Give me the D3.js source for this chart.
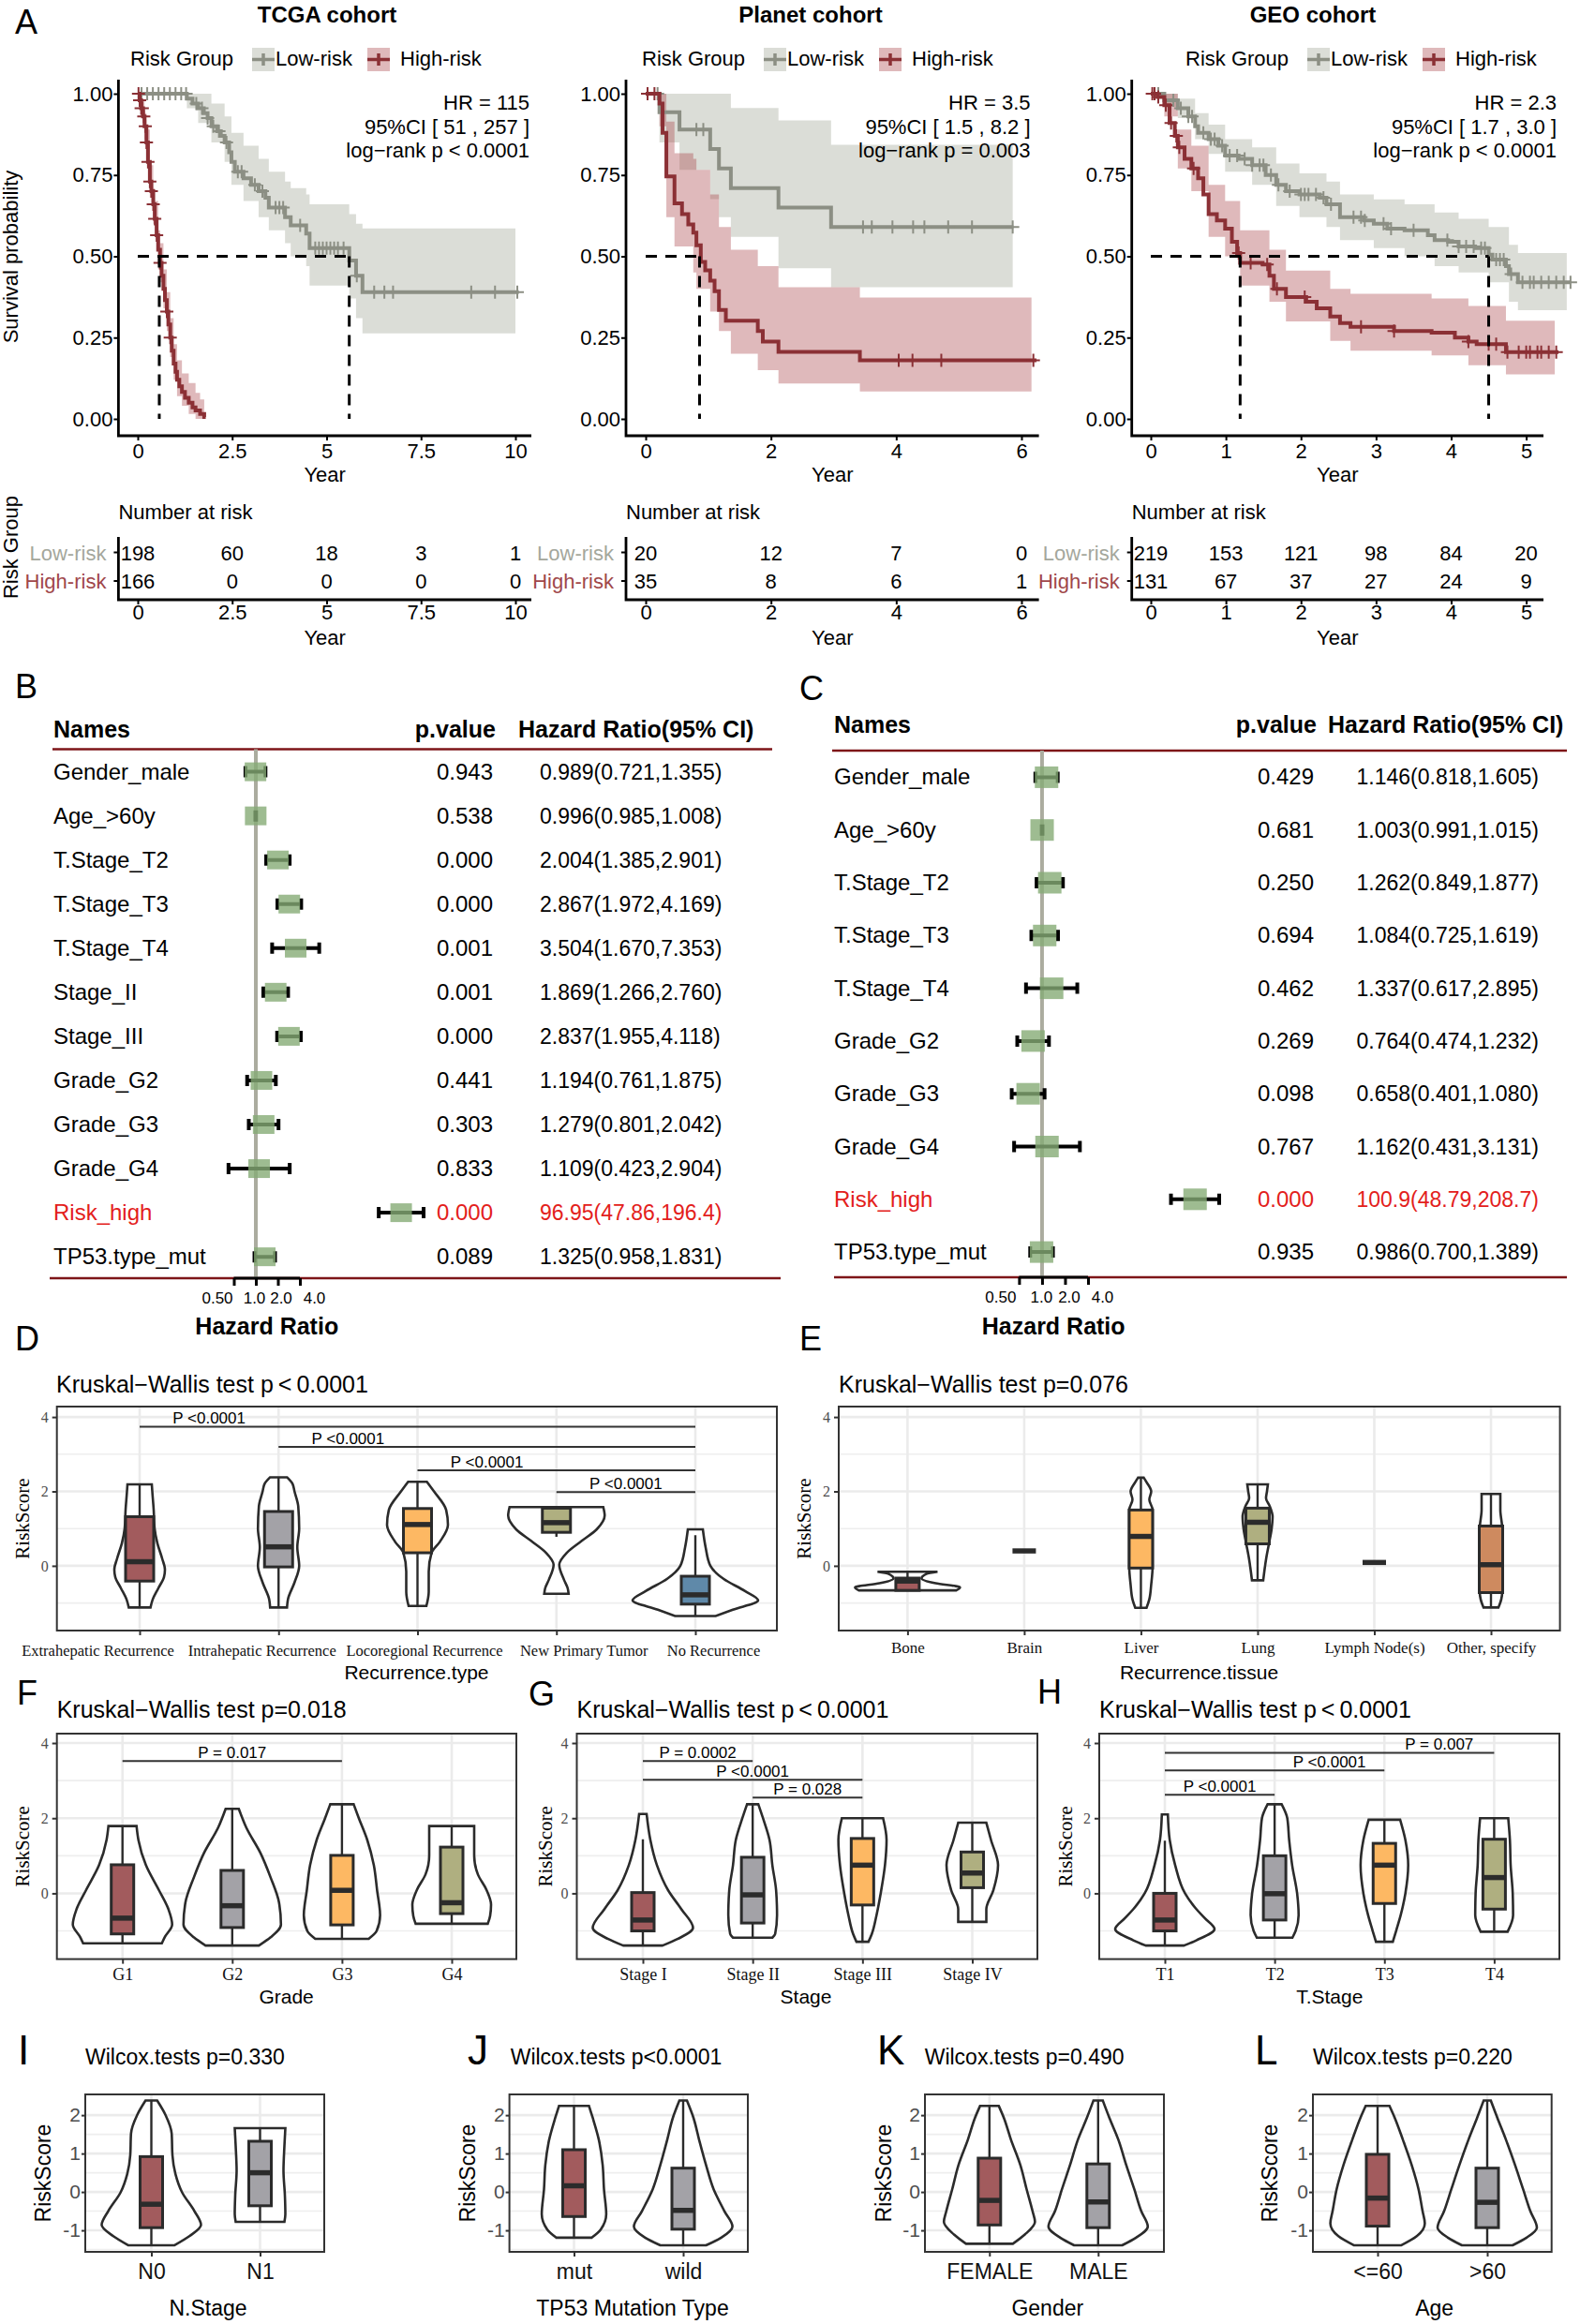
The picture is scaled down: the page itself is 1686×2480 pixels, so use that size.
<!DOCTYPE html>
<html>
<head>
<meta charset="utf-8">
<script src="https://cdn.jsdelivr.net/npm/d3@7"></script>
<style>
  body { margin: 0; background: #fff; }
  svg { display: block; }
</style>
</head>
<body>
<svg id="fig" width="1686" height="2480"></svg>
<script>
/* Risk model figure: KM curves (A), forest plots (B, C), violin plots (D-L) */

// ============ Data: Kaplan-Meier (A) ============
// steps: [year, survival]   ci: [year, lower, upper]   censor: [year]
const tcgaTicks = [0, 2.5, 5, 7.5, 10];
const tcgaLow = [[0,1],[1.30,0.985],[1.45,0.97],[1.6,0.955],[1.75,0.94],[1.85,0.925],[1.95,0.90],[2.1,0.885],[2.2,0.87],[2.3,0.85],[2.42,0.82],[2.48,0.79],[2.57,0.76],[2.8,0.74],[3.0,0.72],[3.2,0.70],[3.38,0.68],[3.47,0.65],[3.9,0.62],[4.05,0.595],[4.46,0.57],[4.55,0.525],[5.6,0.487],[5.78,0.44],[5.95,0.39],[10.09,0.39]];
const tcgaLowCI = [[0,1,1],[1.3,0.955,1],[1.6,0.91,1],[1.95,0.85,0.97],[2.3,0.79,0.93],[2.48,0.72,0.88],[2.8,0.67,0.84],[3.2,0.62,0.80],[3.47,0.58,0.76],[3.9,0.54,0.73],[4.05,0.50,0.71],[4.46,0.47,0.69],[4.55,0.41,0.66],[5.6,0.37,0.63],[5.78,0.31,0.60],[5.95,0.263,0.586],[10.0,0.263,0.586]];
const tcgaLowCens = [0.1,0.25,0.4,0.55,0.7,0.85,1.0,1.15,1.28,1.55,1.7,1.85,2.0,2.15,2.35,2.65,2.75,3.1,3.3,3.65,3.75,3.85,4.3,4.7,4.8,4.9,5.0,5.1,5.2,5.3,5.45,5.8,6.26,6.53,6.76,8.83,9.46,10.05];
const tcgaHigh = [[0,1],[0.05,0.98],[0.09,0.955],[0.14,0.93],[0.18,0.90],[0.23,0.85],[0.27,0.79],[0.32,0.73],[0.36,0.70],[0.41,0.66],[0.45,0.615],[0.50,0.565],[0.54,0.52],[0.59,0.48],[0.63,0.44],[0.68,0.40],[0.72,0.365],[0.77,0.33],[0.81,0.29],[0.86,0.25],[0.90,0.21],[0.95,0.17],[1.0,0.145],[1.04,0.12],[1.1,0.10],[1.17,0.083],[1.25,0.065],[1.35,0.05],[1.45,0.035],[1.53,0.026],[1.65,0.015],[1.76,0.006],[1.8,0.006]];
const tcgaHighCI = [[0,1,1],[0.09,0.93,0.98],[0.18,0.86,0.94],[0.23,0.80,0.89],[0.32,0.68,0.78],[0.41,0.60,0.71],[0.45,0.56,0.67],[0.54,0.46,0.58],[0.59,0.42,0.54],[0.68,0.34,0.46],[0.77,0.27,0.39],[0.86,0.19,0.31],[0.95,0.12,0.23],[1.04,0.07,0.18],[1.17,0.04,0.14],[1.35,0.015,0.11],[1.53,0,0.08],[1.65,0,0.06],[1.76,0,0.06]];
const tcgaHighCens = [0.02,0.05,0.09,0.12,0.16,0.2,0.23,0.27,0.32,0.36,0.41,0.45,0.5,0.59,0.77,0.86];
const tcgaMedians = [0.57, 5.6];
const tcgaStats = ['HR = 115', '95%CI [ 51 , 257 ]', 'log\u2212rank p < 0.0001'];
const tcgaRiskLow = [198, 60, 18, 3, 1];
const tcgaRiskHigh = [166, 0, 0, 0, 0];

const planetTicks = [0, 2, 4, 6];
const planetLow = [[0,1],[0.22,0.943],[0.54,0.89],[1.03,0.83],[1.17,0.77],[1.36,0.71],[2.12,0.65],[2.96,0.59],[5.87,0.59]];
const planetLowCI = [[0,1,1],[0.22,0.85,1],[0.54,0.766,1],[1.03,0.676,1],[1.17,0.62,1],[1.36,0.56,0.956],[2.12,0.463,0.918],[2.96,0.405,0.843],[5.86,0.405,0.843]];
const planetLowCens = [0.03,0.19,0.81,0.92,3.47,3.61,3.94,4.27,4.45,4.83,5.21,5.86];
const planetHigh = [[0,1],[0.22,0.97],[0.27,0.88],[0.33,0.746],[0.46,0.663],[0.58,0.63],[0.68,0.598],[0.76,0.573],[0.81,0.534],[0.88,0.483],[0.95,0.457],[1.03,0.425],[1.10,0.393],[1.17,0.335],[1.28,0.302],[1.79,0.27],[1.87,0.238],[2.12,0.206],[3.42,0.18],[6.24,0.18]];
const planetHighCI = [[0,1,1],[0.22,0.9,1],[0.33,0.62,0.914],[0.46,0.53,0.817],[0.76,0.45,0.80],[0.81,0.40,0.766],[1.03,0.33,0.69],[1.17,0.27,0.59],[1.36,0.20,0.52],[1.79,0.15,0.47],[2.12,0.109,0.405],[3.42,0.084,0.373],[6.16,0.084,0.373]];
const planetHighCens = [0.03,0.14,4.04,4.26,4.72,6.19];
const planetMedians = [0.86];
const planetStats = ['HR = 3.5', '95%CI [ 1.5 , 8.2 ]', 'log\u2212rank p = 0.003'];
const planetRiskLow = [20, 12, 7, 0];
const planetRiskHigh = [35, 8, 6, 1];

const geoTicks = [0, 1, 2, 3, 4, 5];
const geoLow = [[0,1],[0.18,0.98],[0.36,0.955],[0.5,0.93],[0.59,0.90],[0.63,0.88],[0.77,0.86],[0.9,0.84],[0.99,0.81],[1.17,0.80],[1.35,0.78],[1.53,0.75],[1.67,0.72],[1.8,0.70],[1.98,0.69],[2.25,0.68],[2.34,0.66],[2.52,0.62],[2.84,0.61],[2.97,0.60],[3.15,0.585],[3.38,0.58],[3.69,0.565],[3.78,0.55],[3.96,0.545],[4.1,0.53],[4.32,0.525],[4.5,0.505],[4.55,0.49],[4.73,0.47],[4.77,0.445],[4.89,0.42],[5.59,0.42]];
const geoLowCI = [[0,1,1],[0.18,0.96,1],[0.36,0.925,0.985],[0.59,0.86,0.94],[0.77,0.815,0.905],[0.99,0.76,0.86],[1.35,0.72,0.835],[1.67,0.655,0.785],[1.98,0.62,0.755],[2.34,0.59,0.73],[2.52,0.55,0.69],[2.97,0.525,0.675],[3.38,0.50,0.66],[3.78,0.47,0.635],[4.1,0.45,0.615],[4.5,0.42,0.59],[4.77,0.36,0.535],[4.89,0.334,0.51],[5.54,0.334,0.51]];
const geoLowCens = [0.05,0.1,0.3,0.4,0.5,0.55,0.7,0.8,0.85,0.95,1.05,1.15,1.25,1.35,1.45,1.5,1.6,1.7,1.85,2.0,2.05,2.1,2.2,2.3,2.4,2.7,2.8,2.85,3.1,3.2,3.5,3.95,4.1,4.2,4.3,4.4,4.45,4.6,4.65,4.7,4.8,4.95,5.05,5.1,5.2,5.3,5.4,5.5,5.59];
const geoHigh = [[0,1],[0.09,0.99],[0.18,0.965],[0.25,0.91],[0.32,0.87],[0.36,0.835],[0.45,0.80],[0.54,0.77],[0.63,0.74],[0.7,0.69],[0.77,0.63],[0.88,0.61],[0.99,0.585],[1.08,0.545],[1.15,0.51],[1.19,0.48],[1.49,0.475],[1.58,0.44],[1.64,0.40],[1.8,0.375],[2.07,0.36],[2.21,0.34],[2.39,0.315],[2.52,0.295],[2.66,0.283],[3.24,0.27],[3.74,0.265],[4.05,0.25],[4.23,0.238],[4.34,0.23],[4.73,0.205],[5.43,0.205]];
const geoHighCI = [[0,1,1],[0.18,0.93,1],[0.36,0.77,0.89],[0.54,0.70,0.84],[0.77,0.56,0.72],[0.99,0.50,0.67],[1.19,0.41,0.58],[1.58,0.36,0.52],[1.8,0.30,0.456],[2.39,0.24,0.40],[2.66,0.21,0.385],[3.74,0.195,0.37],[4.23,0.165,0.347],[4.73,0.137,0.302],[5.38,0.137,0.302]];
const geoHighCens = [0.02,0.05,0.1,0.2,0.27,0.34,0.38,0.57,1.17,1.33,1.55,1.68,2.05,2.8,3.24,4.23,4.5,4.6,4.75,4.9,5.0,5.05,5.15,5.2,5.3,5.4];
const geoMedians = [1.19, 4.5];
const geoStats = ['HR = 2.3', '95%CI [ 1.7 , 3.0 ]', 'log\u2212rank p < 0.0001'];
const geoRiskLow = [219, 153, 121, 98, 84, 20];
const geoRiskHigh = [131, 67, 37, 27, 24, 9];

// ============ Data: forest plots (B, C) ============
const tcgaCoxNames = ['Gender_male','Age_>60y','T.Stage_T2','T.Stage_T3','T.Stage_T4','Stage_II','Stage_III','Grade_G2','Grade_G3','Grade_G4','Risk_high','TP53.type_mut'];
const tcgaCoxP  = [0.943,0.538,0.000,0.000,0.001,0.001,0.000,0.441,0.303,0.833,0.000,0.089];
const tcgaCoxHR = [0.989,0.996,2.004,2.867,3.504,1.869,2.837,1.194,1.279,1.109,96.95,1.325];
const tcgaCoxLo = [0.721,0.985,1.385,1.972,1.670,1.266,1.955,0.761,0.801,0.423,47.86,0.958];
const tcgaCoxHi = [1.355,1.008,2.901,4.169,7.353,2.760,4.118,1.875,2.042,2.904,196.4,1.831];

const multiCoxNames = ['Gender_male','Age_>60y','T.Stage_T2','T.Stage_T3','T.Stage_T4','Grade_G2','Grade_G3','Grade_G4','Risk_high','TP53.type_mut'];
const multiCoxP  = [0.429,0.681,0.250,0.694,0.462,0.269,0.098,0.767,0.000,0.935];
const multiCoxHR = [1.146,1.003,1.262,1.084,1.337,0.764,0.658,1.162,100.9,0.986];
const multiCoxLo = [0.818,0.991,0.849,0.725,0.617,0.474,0.401,0.431,48.79,0.700];
const multiCoxHi = [1.605,1.015,1.877,1.619,2.895,1.232,1.080,3.131,208.7,1.389];
const hrTicks = [0.5, 1, 2, 4];

// ============ Data: violin plots (D-L) ============
// box: [q1, median, q3]   whisk: [low, high]   dens: [[riskScore, density], ...]
// comps: [groupA, groupB, bracket height, label, label position (group index)]
const recTypeCats = ['Extrahepatic Recurrence','Intrahepatic Recurrence','Locoregional Recurrence','New Primary Tumor','No Recurrence'];
const recTypeBox = [[-0.41,0.11,1.32],[-0.03,0.51,1.46],[0.35,1.11,1.54],[0.9,1.16,1.55],[-1.03,-0.78,-0.28]];
const recTypeWhisk = [[-1.12,2.19],[-1.12,2.38],[-1.08,2.26],[0.78,1.55],[-1.35,0.82]];
const recTypeDens = [
  [[-1.12,11.6],[-0.9,14],[-0.6,20],[-0.3,26],[-0.1,27],[0.2,24],[0.6,19],[1.0,16],[1.5,15],[2.0,13.5],[2.19,13]],
  [[-1.12,9],[-0.9,10],[-0.45,17],[0,22],[0.5,20],[1.0,22],[1.6,21],[2.0,17],[2.2,15],[2.38,9]],
  [[-1.08,9.5],[-0.7,12],[-0.15,12],[0.35,15],[0.65,24],[1.1,32.5],[1.5,30.6],[2.0,17.6],[2.26,10]],
  [[-0.75,13],[-0.6,12],[-0.37,8],[0.03,3],[0.35,11],[0.67,27],[0.98,43],[1.35,51.5],[1.58,50]],
  [[-1.35,21.7],[-1.18,40],[-0.93,67],[-0.68,53],[-0.35,30],[0,16],[0.49,11],[0.98,8]]
];
const recTypeComps = [[0,4,3.74,'P <0.0001',0.5],[1,4,3.2,'P <0.0001',1.5],[2,4,2.57,'P <0.0001',2.5],[3,4,1.98,'P <0.0001',3.5]];

const recTissueCats = ['Bone','Brain','Liver','Lung','Lymph Node(s)','Other, specify'];
const recTissueBox = [[-0.66,-0.41,-0.33],[0.4,0.4,0.4],[-0.06,0.79,1.5],[0.59,1.17,1.55],[0.09,0.09,0.09],[-0.72,0.03,1.07]];
const recTissueWhisk = [[-0.66,-0.16],[0.4,0.4],[-1.13,2.37],[-0.39,2.19],[0.09,0.09],[-1.12,1.93]];
const recTissueDens = [
  [[-0.66,52],[-0.58,56],[-0.47,30],[-0.34,15],[-0.22,20],[-0.16,32]],
  [],
  [[-1.13,6],[-0.9,9],[-0.5,11],[0,12.5],[0.8,12.5],[1.5,12.5],[1.78,9],[2.0,11],[2.25,6],[2.37,3]],
  [[-0.39,6],[0.17,9],[0.58,12],[1.0,15],[1.32,16],[1.6,13],[1.82,9],[2.0,10],[2.19,11]],
  [],
  [[-1.12,8],[-0.9,11],[-0.7,12],[0,12],[1.0,12],[1.5,10],[1.8,10],[1.93,10]]
];

const gradeCats = ['G1','G2','G3','G4'];
const gradeBox = [[-1.08,-0.66,0.76],[-0.91,-0.33,0.61],[-0.84,0.08,1.01],[-0.54,-0.25,1.23]];
const gradeWhisk = [[-1.33,1.79],[-1.39,2.25],[-1.21,2.37],[-0.81,1.79]];
const gradeDens = [
  [[-1.33,42],[-1.17,45],[-0.83,53],[-0.42,49],[0.08,39],[0.75,25],[1.42,17],[1.79,15]],
  [[-1.39,28.5],[-1.17,41],[-0.83,52],[-0.25,50],[0.42,41],[1.08,30],[1.75,15],[2.25,7]],
  [[-1.21,28.5],[-1.0,37],[-0.58,40.7],[0.08,37.5],[0.75,34],[1.42,27],[2.0,18],[2.37,12.5]],
  [[-0.81,38.5],[-0.6,41],[-0.3,42],[0.1,37],[0.5,28],[1.0,24],[1.5,24],[1.79,24]]
];
const gradeComps = [[0,2,3.52,'P = 0.017',1.0]];

const stageCats = ['Stage I','Stage II','Stage III','Stage IV'];
const stageBox = [[-1.0,-0.71,0.02],[-0.79,-0.04,0.96],[-0.31,0.75,1.46],[0.15,0.54,1.1]];
const stageWhisk = [[-1.39,1.44],[-1.18,2.37],[-1.29,2.0],[-0.76,1.88]];
const stageDens = [
  [[-1.39,21],[-1.21,37.5],[-0.92,53.5],[-0.42,41],[0.08,27],[0.75,15],[1.42,8],[2.11,4]],
  [[-1.18,21],[-1.08,24],[-0.58,26],[0.08,25],[0.75,21],[1.42,18],[2.0,11],[2.37,6]],
  [[-1.29,6.4],[-1.08,10],[-0.58,15],[0.08,20],[0.75,24],[1.42,25.7],[2.0,22]],
  [[-0.76,15],[-0.42,15],[0.08,22.5],[0.75,27.5],[1.42,20],[1.88,15]]
];
const stageComps = [[0,1,3.52,'P = 0.0002',0.5],[0,2,3.02,'P <0.0001',1.0],[1,2,2.55,'P = 0.028',1.5]];

const tStageCats = ['T1','T2','T3','T4'];
const tStageBox = [[-1.0,-0.71,0.0],[-0.71,-0.01,1.0],[-0.27,0.75,1.33],[-0.42,0.42,1.44]];
const tStageWhisk = [[-1.39,1.40],[-1.18,2.37],[-1.29,1.96],[-1.02,2.0]];
const tStageDens = [
  [[-1.39,20.5],[-1.25,33.6],[-0.95,53],[-0.66,42.6],[-0.42,33.6],[0,21.5],[0.75,11],[1.42,5.2],[2.1,3.2]],
  [[-1.18,19],[-1.0,22.4],[-0.58,25.6],[0,24],[0.75,18.7],[1.42,15.5],[2.0,13.5],[2.37,7.5]],
  [[-1.29,9],[-1.0,12.5],[-0.58,17.4],[0,22.4],[0.75,25.4],[1.42,22.4],[1.96,16.8]],
  [[-1.02,14.4],[-0.58,20.2],[0,19.8],[0.75,17.6],[1.42,16.8],[2.0,15]]
];
const tStageComps = [[0,3,3.74,'P = 0.007',2.5],[0,2,3.27,'P <0.0001',1.5],[0,1,2.62,'P <0.0001',0.5]];

const nStageCats = ['N0','N1'];
const nStageBox = [[-0.93,-0.32,0.92],[-0.36,0.5,1.32]];
const nStageWhisk = [[-1.39,2.38],[-0.78,1.66]];
const nStageDens = [
  [[-1.39,24.4],[-1.15,40.6],[-0.86,53],[-0.5,46],[-0.01,32.8],[0.47,25.7],[0.96,22.5],[1.52,21.7],[2.01,15],[2.38,6.2]],
  [[-0.78,26],[-0.58,27],[-0.09,26.5],[0.55,25],[1.2,26],[1.66,27]]
];
const tp53Cats = ['mut','wild'];
const tp53Box = [[-0.64,0.16,1.1],[-0.97,-0.48,0.62]];
const tp53Whisk = [[-1.19,2.24],[-1.39,2.38]];
const tp53Dens = [
  [[-1.19,19],[-0.98,28.5],[-0.58,34.4],[0.07,32],[0.7,30.6],[1.36,26.5],[1.93,20],[2.24,16]],
  [[-1.39,24.4],[-1.19,40.6],[-0.9,52.6],[-0.5,44],[0.07,32.5],[0.7,24.4],[1.36,17],[1.93,11],[2.38,4]]
];
const genderCats = ['FEMALE','MALE'];
const genderBox = [[-0.86,-0.22,0.88],[-0.93,-0.26,0.73]];
const genderWhisk = [[-1.35,2.24],[-1.39,2.38]];
const genderDens = [
  [[-1.35,25],[-1.11,37.8],[-0.78,48.6],[-0.5,46],[0.07,39.7],[0.7,33],[1.36,23],[1.93,15.4],[2.24,10]],
  [[-1.39,25.6],[-1.19,40.5],[-0.9,53],[-0.5,46],[0.07,38.6],[0.7,30],[1.36,21.6],[1.93,12],[2.38,5]]
];
const ageCats = ['<=60','>60'];
const ageBox = [[-0.89,-0.16,0.98],[-0.93,-0.27,0.62]];
const ageWhisk = [[-1.39,2.24],[-1.39,2.38]];
const ageDens = [
  [[-1.39,25],[-1.15,41.8],[-0.82,50.4],[-0.5,48],[0.07,43.7],[0.7,36.4],[1.36,27],[1.93,18.3],[2.24,12.7]],
  [[-1.39,27],[-1.19,42],[-0.93,53],[-0.5,46],[0.07,38.3],[0.7,29.7],[1.36,20],[1.93,10.8],[2.38,3.8]]
];

// ============ Styles ============
const SANS = '"Liberation Sans", Arial, Helvetica, sans-serif';
const SERIF = '"Liberation Serif", "Times New Roman", Times, serif';
const LOW = { line: '#8C8F84', band: '#A5A99B', alpha: 0.4, text: '#A4A79C' };
const HIGH = { line: '#8B3035', band: '#A53E42', alpha: 0.36, text: '#A0474A' };
const BROWN = '#A25B5D', GREY = '#A3A2A7', ORANGE = '#FDB863', KHAKI = '#AFAF80', BLUE = '#5F89A9', COPPER = '#CE8A5F';
const RED = '#E3201B', DARKRED = '#7E1518', INK = '#2B2B2B';

const svg = d3.select('#fig');

function label(g, x, y, s, o = {}) {
  const t = g.append('text').attr('x', x).attr('y', y).text(s)
    .attr('font-family', o.family || SANS)
    .attr('font-size', o.size || 22)
    .attr('fill', o.fill || '#000')
    .attr('text-anchor', o.anchor || 'start');
  if (o.weight) t.attr('font-weight', o.weight);
  if (o.rot) t.attr('transform', `rotate(-90,${x},${y})`);
  return t;
}

function styleAxis(sel, o) {
  sel.select('.domain').remove();
  sel.selectAll('line').attr('stroke', o.tick || '#000').attr('stroke-width', o.tickW || 2);
  sel.selectAll('text').attr('font-family', o.family || SANS).attr('font-size', o.size || 22)
    .attr('fill', o.fill || '#000');
}

function survAt(steps, t) {
  let s = steps[0][1];
  for (const [ti, si] of steps) { if (ti <= t + 1e-9) s = si; else break; }
  return s;
}

// ============ Panel letters ============
[['A',16,36],['B',16,745],['C',853,747],['D',16,1441],['E',853,1441],['F',18,1819],['G',564,1820],['H',1107,1818]]
  .forEach(([s, x, y]) => label(svg, x, y, s, { size: 36 }));
[['I',19,2203],['J',499,2203],['K',936,2203],['L',1339,2203]]
  .forEach(([s, x, y]) => label(svg, x, y, s, { size: 44 }));

// ============ Kaplan-Meier ============
function legendKey(g, x, s) {
  g.append('rect').attr('x', x).attr('y', 51).attr('width', 24).attr('height', 25)
    .attr('fill', s.band).attr('fill-opacity', s.alpha);
  g.append('path').attr('d', `M${x},63.5h24M${x + 12},57v13`).attr('stroke', s.line)
    .attr('stroke-width', 3.5).attr('fill', 'none');
}

function drawKM(c) {
  const g = svg.append('g');
  const tEnd = c.ticks[c.ticks.length - 1];
  const x = d3.scaleLinear().domain([0, tEnd]).range([c.zeroX, c.lastX]);
  const y = d3.scaleLinear().domain([0, 1]).range([447, 100]);
  const band = d3.area().curve(d3.curveStepAfter).x(d => x(d[0])).y0(d => y(d[1])).y1(d => y(d[2]));
  const line = d3.line().curve(d3.curveStepAfter).x(d => x(d[0])).y(d => y(d[1]));

  label(g, c.titleX, 24, c.title, { size: 24, weight: 'bold', anchor: 'middle' });
  label(g, c.lgX, 70, 'Risk Group');
  legendKey(g, c.lgX + 130, LOW);
  label(g, c.lgX + 155, 70, 'Low-risk');
  legendKey(g, c.lgX + 253, HIGH);
  label(g, c.lgX + 288, 70, 'High-risk');

  [[c.lowCI, LOW], [c.highCI, HIGH]].forEach(([d, s]) =>
    g.append('path').attr('d', band(d)).attr('fill', s.band).attr('fill-opacity', s.alpha));
  [[c.low, c.lowCens, LOW], [c.high, c.highCens, HIGH]].forEach(([d, cens, s]) => {
    g.append('path').attr('d', line(d)).attr('fill', 'none').attr('stroke', s.line).attr('stroke-width', 4);
    g.append('path').attr('d', cens.map(t => {
      const px = x(t), py = y(survAt(d, t));
      return `M${px - 7},${py}h14M${px},${py - 7}v14`;
    }).join('')).attr('stroke', s.line).attr('stroke-width', 2).attr('fill', 'none');
  });

  // median survival guides
  let dp = `M${x(0)},${y(0.5)}H${x(d3.max(c.medians))}`;
  c.medians.forEach(m => { dp += `M${x(m)},${y(0.5)}V${y(0)}`; });
  g.append('path').attr('d', dp).attr('stroke', '#000').attr('stroke-width', 3)
    .attr('stroke-dasharray', '12,9').attr('fill', 'none');

  c.stats.forEach((s, i) => label(g, c.hrRight, 117 + i * 25.5, s, { anchor: 'end' }));

  // axes
  g.append('path').attr('d', `M${c.axX0},85V465H${c.axX1}`).attr('stroke', '#000')
    .attr('stroke-width', 2.8).attr('fill', 'none');
  g.append('g').attr('transform', `translate(${c.axX0},0)`)
    .call(d3.axisLeft(y).tickValues([0, 0.25, 0.5, 0.75, 1]).tickFormat(d3.format('.2f')).tickSize(5).tickPadding(1))
    .call(sel => styleAxis(sel, {}));
  g.append('g').attr('transform', 'translate(0,465)')
    .call(d3.axisBottom(x).tickValues(c.ticks).tickFormat(d => String(d)).tickSize(5).tickPadding(3))
    .call(sel => styleAxis(sel, {}));
  label(g, (c.axX0 + c.axX1) / 2, 514, 'Year', { anchor: 'middle' });

  // number at risk table
  label(g, c.axX0, 554, 'Number at risk');
  g.append('path').attr('d', `M${c.axX0},573V640H${c.axX1}`).attr('stroke', '#000')
    .attr('stroke-width', 2.8).attr('fill', 'none');
  [[589.5, 'Low-risk', c.riskLow, LOW], [620, 'High-risk', c.riskHigh, HIGH]].forEach(([ry, name, vals, s]) => {
    label(g, c.axX0 - 13, ry + 8, name, { fill: s.text, anchor: 'end' });
    g.append('path').attr('d', `M${c.axX0 - 5},${ry}h5`).attr('stroke', '#000').attr('stroke-width', 2);
    vals.forEach((v, i) => label(g, x(c.ticks[i]), ry + 8, String(v), { anchor: 'middle' }));
  });
  g.append('g').attr('transform', 'translate(0,640)')
    .call(d3.axisBottom(x).tickValues(c.ticks).tickFormat(d => String(d)).tickSize(5).tickPadding(0))
    .call(sel => styleAxis(sel, {}));
  label(g, (c.axX0 + c.axX1) / 2, 688, 'Year', { anchor: 'middle' });

  if (c.yTitles) {
    label(g, 19, 274, 'Survival probability', { anchor: 'middle', rot: true });
    label(g, 19, 584, 'Risk Group', { anchor: 'middle', rot: true });
  }
}

drawKM({ title: 'TCGA cohort', titleX: 349, lgX: 139, hrRight: 565, axX0: 126.4, axX1: 567, zeroX: 147, lastX: 550,
  ticks: tcgaTicks, low: tcgaLow, lowCI: tcgaLowCI, lowCens: tcgaLowCens, high: tcgaHigh, highCI: tcgaHighCI,
  highCens: tcgaHighCens, medians: tcgaMedians, stats: tcgaStats, riskLow: tcgaRiskLow, riskHigh: tcgaRiskHigh, yTitles: true });
drawKM({ title: 'Planet cohort', titleX: 865, lgX: 685, hrRight: 1099.5, axX0: 668, axX1: 1108.6, zeroX: 689, lastX: 1090,
  ticks: planetTicks, low: planetLow, lowCI: planetLowCI, lowCens: planetLowCens, high: planetHigh, highCI: planetHighCI,
  highCens: planetHighCens, medians: planetMedians, stats: planetStats, riskLow: planetRiskLow, riskHigh: planetRiskHigh });
drawKM({ title: 'GEO cohort', titleX: 1401, lgX: 1265, hrRight: 1661, axX0: 1207.7, axX1: 1647, zeroX: 1228, lastX: 1628.6,
  ticks: geoTicks, low: geoLow, lowCI: geoLowCI, lowCens: geoLowCens, high: geoHigh, highCI: geoHighCI,
  highCens: geoHighCens, medians: geoMedians, stats: geoStats, riskLow: geoRiskLow, riskHigh: geoRiskHigh });

// ============ Forest plots ============
const fmtHR = v => v >= 10 ? d3.format('.4')(v) : d3.format('.3f')(v);

function drawForest(c) {
  const g = svg.append('g');
  const x = d3.scaleLog().base(2).domain([0.5, 4]).range([c.x05, c.x4]);
  const rowY = i => c.row0 + i * c.rowStep;

  label(g, c.namesX, c.headY, 'Names', { size: 25, weight: 'bold' });
  label(g, c.pRight + 3, c.headY, 'p.value', { size: 25, weight: 'bold', anchor: 'end' });
  label(g, c.hrHeadX, c.headY, 'Hazard Ratio(95% CI)', { size: 25, weight: 'bold' });

  g.append('line').attr('x1', c.topX0).attr('x2', c.lineX1).attr('y1', c.topY).attr('y2', c.topY)
    .attr('stroke', DARKRED).attr('stroke-width', 2.5);
  g.append('line').attr('x1', c.botX0).attr('x2', c.botX1).attr('y1', c.botY).attr('y2', c.botY)
    .attr('stroke', DARKRED).attr('stroke-width', 2.5);
  g.append('line').attr('x1', x(1)).attr('x2', x(1)).attr('y1', c.topY).attr('y2', c.botY)
    .attr('stroke', '#ABAC9F').attr('stroke-width', 4);

  c.names.forEach((n, i) => {
    const yy = rowY(i), col = n === 'Risk_high' ? RED : '#000';
    label(g, c.namesX, yy + 8, n, { size: 24, fill: col });
    label(g, c.pRight, yy + 8, d3.format('.3f')(c.p[i]), { size: 24, fill: col, anchor: 'end' });
    label(g, c.hrX, yy + 8, `${fmtHR(c.hr[i])}(${fmtHR(c.lo[i])},${fmtHR(c.hi[i])})`, { size: 23, fill: col });
    const a = x(c.lo[i]), b = x(c.hi[i]);
    g.append('path').attr('d', `M${a},${yy}H${b}M${a},${yy - 6}v12M${b},${yy - 6}v12`)
      .attr('stroke', '#000').attr('stroke-width', 4).attr('fill', 'none');
    g.append('rect').attr('x', x(c.hr[i]) - c.boxW / 2).attr('y', yy - c.boxH / 2)
      .attr('width', c.boxW).attr('height', c.boxH).attr('fill', '#86AB76').attr('fill-opacity', 0.8);
  });

  g.append('line').attr('x1', x(0.5)).attr('x2', x(4)).attr('y1', c.botY).attr('y2', c.botY)
    .attr('stroke', '#000').attr('stroke-width', 3);
  g.append('g').attr('transform', `translate(0,${c.botY})`)
    .call(d3.axisBottom(x).tickValues(hrTicks).tickFormat(d => d < 1 ? d.toFixed(2) : d.toFixed(1)).tickSize(8).tickPadding(7))
    .call(sel => styleAxis(sel, { size: 17, tickW: 3 }))
    .call(sel => sel.selectAll('text').attr('dx', (d, i) => c.tickDx[i]));
  label(g, (x(0.5) + x(4)) / 2, 1424, 'Hazard Ratio', { size: 25, weight: 'bold', anchor: 'middle' });
}

drawForest({ names: tcgaCoxNames, p: tcgaCoxP, hr: tcgaCoxHR, lo: tcgaCoxLo, hi: tcgaCoxHi,
  namesX: 57, pRight: 526, hrX: 576, hrHeadX: 553, headY: 787, row0: 823.6, rowStep: 47.05,
  topY: 799.5, topX0: 56, lineX1: 824, botY: 1364, botX0: 53, botX1: 833,
  x05: 249.5, x4: 320, boxW: 23, boxH: 20, tickDx: [-18, -2, 3, 15] });
drawForest({ names: multiCoxNames, p: multiCoxP, hr: multiCoxHR, lo: multiCoxLo, hi: multiCoxHi,
  namesX: 890, pRight: 1402, hrX: 1447.5, hrHeadX: 1417, headY: 782, row0: 829.4, rowStep: 56.3,
  topY: 801, topX0: 888, lineX1: 1672, botY: 1363, botX0: 890, botX1: 1672,
  x05: 1087.4, x4: 1161, boxW: 25, boxH: 23, tickDx: [-20, -1, 4, 15] });

// ============ Violin plots ============
function drawViolins(c) {
  const g = svg.append('g');
  const x = d3.scalePoint().domain(c.cats).range([c.catX0, c.catX1]);
  const xi = d3.scaleLinear().domain([0, c.cats.length - 1]).range([c.catX0, c.catX1]);
  const y = d3.scaleLinear().domain(c.yDomain).range([c.y1, c.y0]);
  const w = d3.scaleLinear().domain([0, 50]).range([0, 50]);

  // grid
  c.yMinor.forEach(v => g.append('line').attr('x1', c.x0).attr('x2', c.x1).attr('y1', y(v)).attr('y2', y(v))
    .attr('stroke', '#EEEEEE').attr('stroke-width', 1.6));
  c.yTicks.forEach(v => g.append('line').attr('x1', c.x0).attr('x2', c.x1).attr('y1', y(v)).attr('y2', y(v))
    .attr('stroke', '#EBEBEB').attr('stroke-width', 2.6));
  c.cats.forEach(k => g.append('line').attr('x1', x(k)).attr('x2', x(k)).attr('y1', c.y0).attr('y2', c.y1)
    .attr('stroke', '#EBEBEB').attr('stroke-width', 2.6));

  // violins, whiskers, boxes
  c.cats.forEach((k, i) => {
    const cx = x(k);
    const pts = c.dens[i].slice().sort((a, b) => b[0] - a[0]);
    if (pts.length) {
      const area = d3.area().curve(d3.curveMonotoneY)
        .y(d => y(d[0])).x0(d => cx - w(d[1])).x1(d => cx + w(d[1]));
      g.append('path').attr('d', area(pts)).attr('fill', '#fff').attr('stroke', INK).attr('stroke-width', 2.6);
    }
    const [q1, med, q3] = c.box[i], [wl, wh] = c.whisk[i];
    g.append('path').attr('d', `M${cx},${y(q3)}V${y(wh)}M${cx},${y(q1)}V${y(wl)}`)
      .attr('stroke', INK).attr('stroke-width', 2.4);
    g.append('rect').attr('x', cx - c.boxW / 2).attr('y', y(q3)).attr('width', c.boxW)
      .attr('height', Math.max(0, y(q1) - y(q3))).attr('fill', c.fills[i]).attr('stroke', INK).attr('stroke-width', 3);
    g.append('line').attr('x1', cx - c.boxW / 2).attr('x2', cx + c.boxW / 2).attr('y1', y(med)).attr('y2', y(med))
      .attr('stroke', INK).attr('stroke-width', 5.5);
  });

  // comparison brackets
  (c.comps || []).forEach(([a, b, h, s, pos]) => {
    g.append('line').attr('x1', xi(a)).attr('x2', xi(b)).attr('y1', y(h)).attr('y2', y(h))
      .attr('stroke', '#333').attr('stroke-width', 2);
    label(g, xi(pos), y(h) - 3, s, { size: 17, anchor: 'middle' });
  });

  g.append('rect').attr('x', c.x0).attr('y', c.y0).attr('width', c.x1 - c.x0).attr('height', c.y1 - c.y0)
    .attr('fill', 'none').attr('stroke', '#333').attr('stroke-width', 2);

  // axes
  const fam = c.serif ? SERIF : SANS;
  g.append('g').attr('transform', `translate(${c.x0},0)`)
    .call(d3.axisLeft(y).tickValues(c.yTicks).tickFormat(d => d < 0 ? '-' + Math.abs(d) : String(d))
      .tickSize(c.tickLen).tickPadding(c.yPad))
    .call(sel => styleAxis(sel, { family: fam, size: c.yTickSize, fill: '#4D4D4D', tick: '#333', tickW: 2 }));
  g.append('g').attr('transform', `translate(0,${c.y1})`)
    .call(d3.axisBottom(x).tickSize(5).tickPadding(c.xPad))
    .call(sel => styleAxis(sel, { family: fam, size: c.xTickSize, fill: '#111', tick: '#333', tickW: 2 }))
    .call(sel => { if (c.labelDx) sel.selectAll('text').attr('dx', (d, i) => c.labelDx[i]); });

  label(g, c.titleX, c.titleY, c.title, { size: c.titleSize });
  label(g, c.yTitleX, (c.y0 + c.y1) / 2, 'RiskScore', { family: fam, size: c.yTitleSize, anchor: 'middle', rot: true });
  label(g, c.xTitleX, c.xTitleY, c.xTitle, { size: c.xTitleSize, anchor: 'middle' });
}

const kwD = { serif: true, yTicks: [0, 2, 4], yMinor: [-1, 1, 3], tickLen: 5, yPad: 4, yTickSize: 16,
  titleSize: 25, yTitleSize: 21, xTitleSize: 21 };
const kwTitleLT = 'Kruskal\u2212Wallis test p\u2009<\u20090.0001';

drawViolins(Object.assign({}, kwD, { cats: recTypeCats, box: recTypeBox, whisk: recTypeWhisk, dens: recTypeDens,
  comps: recTypeComps, fills: [BROWN, GREY, ORANGE, KHAKI, BLUE],
  x0: 60.7, x1: 829, y0: 1501, y1: 1740, catX0: 149, catX1: 742, yDomain: [-1.74, 4.28], boxW: 30,
  xPad: 10, xTickSize: 16.5, labelDx: [-45, -18, 7, 29, 19],
  title: kwTitleLT, titleX: 60, titleY: 1486, yTitleX: 31, xTitle: 'Recurrence.type', xTitleX: 444.5, xTitleY: 1792 }));
drawViolins(Object.assign({}, kwD, { cats: recTissueCats, box: recTissueBox, whisk: recTissueWhisk, dens: recTissueDens,
  fills: [BROWN, GREY, ORANGE, KHAKI, BLUE, COPPER],
  x0: 895, x1: 1664.6, y0: 1501, y1: 1740, catX0: 968.4, catX1: 1591, yDomain: [-1.74, 4.28], boxW: 25,
  xPad: 7, xTickSize: 17,
  title: 'Kruskal\u2212Wallis test p=0.076', titleX: 895, titleY: 1486, yTitleX: 865, xTitle: 'Recurrence.tissue', xTitleX: 1279.5, xTitleY: 1792 }));

const kwF = Object.assign({}, kwD, { y0: 1850, y1: 2090.6, yDomain: [-1.75, 4.25], boxW: 24, xPad: 5, xTickSize: 18, titleY: 1833, xTitleY: 2138 });
drawViolins(Object.assign({}, kwF, { cats: gradeCats, box: gradeBox, whisk: gradeWhisk, dens: gradeDens, comps: gradeComps,
  fills: [BROWN, GREY, ORANGE, KHAKI], x0: 60.7, x1: 551, catX0: 130.7, catX1: 482,
  title: 'Kruskal\u2212Wallis test p=0.018', titleX: 60.7, yTitleX: 31, xTitle: 'Grade', xTitleX: 305.6 }));
drawViolins(Object.assign({}, kwF, { cats: stageCats, box: stageBox, whisk: stageWhisk, dens: stageDens, comps: stageComps,
  fills: [BROWN, GREY, ORANGE, KHAKI], x0: 615.5, x1: 1107, catX0: 686, catX1: 1037.5,
  title: kwTitleLT, titleX: 615.5, yTitleX: 589, xTitle: 'Stage', xTitleX: 860 }));
drawViolins(Object.assign({}, kwF, { cats: tStageCats, box: tStageBox, whisk: tStageWhisk, dens: tStageDens, comps: tStageComps,
  fills: [BROWN, GREY, ORANGE, KHAKI], x0: 1173, x1: 1664, catX0: 1243, catX1: 1594.4,
  title: kwTitleLT, titleX: 1173, yTitleX: 1144, xTitle: 'T.Stage', xTitleX: 1418.8 }));

const wx = { serif: false, yTicks: [-1, 0, 1, 2], yMinor: [-1.5, -0.5, 0.5, 1.5], tickLen: 4, yPad: 1, yTickSize: 21,
  titleSize: 23, yTitleSize: 23, xTitleSize: 23, y0: 2235, y1: 2403, yDomain: [-1.56, 2.54], boxW: 24,
  xPad: 8, xTickSize: 23, titleY: 2203, xTitleY: 2471, fills: [BROWN, GREY] };
drawViolins(Object.assign({}, wx, { cats: nStageCats, box: nStageBox, whisk: nStageWhisk, dens: nStageDens,
  x0: 91, x1: 346, catX0: 161.5, catX1: 277.5, title: 'Wilcox.tests p=0.330', titleX: 91, yTitleX: 54, xTitle: 'N.Stage', xTitleX: 222 }));
drawViolins(Object.assign({}, wx, { cats: tp53Cats, box: tp53Box, whisk: tp53Whisk, dens: tp53Dens,
  x0: 543.6, x1: 798, catX0: 612.5, catX1: 729, title: 'Wilcox.tests p<0.0001', titleX: 544.7, yTitleX: 507, xTitle: 'TP53 Mutation Type', xTitleX: 675 }));
drawViolins(Object.assign({}, wx, { cats: genderCats, box: genderBox, whisk: genderWhisk, dens: genderDens,
  x0: 987, x1: 1242, catX0: 1055.8, catX1: 1171.8, title: 'Wilcox.tests p=0.490', titleX: 986.7, yTitleX: 951, xTitle: 'Gender', xTitleX: 1117.8 }));
drawViolins(Object.assign({}, wx, { cats: ageCats, box: ageBox, whisk: ageWhisk, dens: ageDens,
  x0: 1401, x1: 1655.7, catX0: 1470, catX1: 1587, title: 'Wilcox.tests p=0.220', titleX: 1401, yTitleX: 1363, xTitle: 'Age', xTitleX: 1530.6 }));
</script>
</body>
</html>
